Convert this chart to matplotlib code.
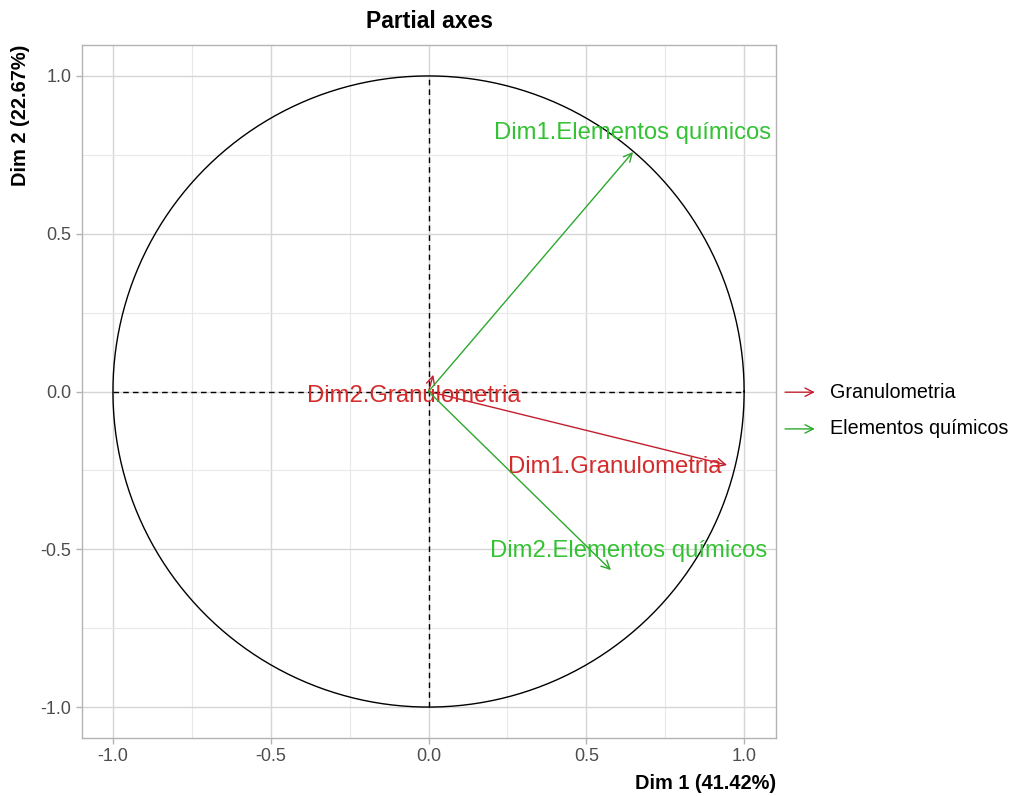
import numpy as np
import matplotlib
matplotlib.use("Agg")
import matplotlib.pyplot as plt
from matplotlib.ticker import MultipleLocator

plt.rcParams['font.family'] = ['Liberation Sans', 'DejaVu Sans']
plt.rcParams['axes.unicode_minus'] = False

# ---- data ----
names = ["Dim1.Granulometria", "Dim2.Granulometria",
         "Dim1.Elementos químicos", "Dim2.Elementos químicos"]
groups = ["Granulometria", "Granulometria", "Elementos químicos", "Elementos químicos"]
coord_x = [0.946, 0.015, 0.648, 0.578]
coord_y = [-0.233, 0.053, 0.759, -0.566]
label_x = [0.589, -0.048, 0.647, 0.634]
label_y = [-0.239, -0.014, 0.820, -0.505]
group_names = ["Granulometria", "Elementos químicos"]
group_colors = {"Granulometria": "#D42A2A", "Elementos químicos": "#33C233"}
arrow_colors = {"Granulometria": "#C21F2E", "Elementos químicos": "#2DA82D"}
xlabel = "Dim 1 (41.42%)"
ylabel = "Dim 2 (22.67%)"
title = "Partial axes"

fig = plt.figure(figsize=(10.14, 7.96), dpi=100)
ax = fig.add_axes([82/1014, 1-738/796, (776-82)/1014, (738-45)/796])

ax.set_xlim(-1.098, 1.101)
ax.set_ylim(-1.098, 1.098)

# grid
ax.xaxis.set_major_locator(MultipleLocator(0.5))
ax.yaxis.set_major_locator(MultipleLocator(0.5))
ax.xaxis.set_minor_locator(MultipleLocator(0.25))
ax.yaxis.set_minor_locator(MultipleLocator(0.25))
ax.grid(which='major', color='#D6D6D6', lw=1.0)
ax.grid(which='minor', color='#E8E8E8', lw=0.8)
ax.set_axisbelow(True)
for s in ax.spines.values():
    s.set_color('#B3B3B3')
    s.set_linewidth(1.0)
ax.tick_params(which='major', colors='#B3B3B3', labelcolor='#4D4D4D', labelsize=13, length=4, width=1)
ax.tick_params(which='minor', length=0)

# circle
t = np.linspace(0, 2*np.pi, 400)
ax.plot(np.cos(t), np.sin(t), color='black', lw=1)
ax.plot([-1, 1], [0, 0], color='black', lw=1, ls=(0, (4, 3)))
ax.plot([0, 0], [-1, 1], color='black', lw=1, ls=(0, (4, 3)))

# arrows and labels
for n, g, x, y, lx, ly in zip(names, groups, coord_x, coord_y, label_x, label_y):
    ax.annotate('', xy=(x, y), xytext=(0, 0),
                arrowprops=dict(arrowstyle='->,head_length=0.6,head_width=0.3',
                                color=arrow_colors[g], lw=1, shrinkA=0, shrinkB=0))
    ax.text(lx, ly, n, color=group_colors[g], fontsize=17.2, ha='center', va='center')

# legend
for i, g in enumerate(group_names):
    yy = 0.499 - i*0.053
    ax.annotate('', xy=(1.056, yy), xytext=(1.013, yy), xycoords='axes fraction',
                textcoords='axes fraction', annotation_clip=False,
                arrowprops=dict(arrowstyle='->,head_length=0.6,head_width=0.3',
                                color=arrow_colors[g], lw=1, shrinkA=0, shrinkB=0))
    ax.text(1.078, yy, g, transform=ax.transAxes, fontsize=14.2, color='black',
            ha='left', va='center')

ax.set_title(title, fontsize=16.5, fontweight='bold', pad=12)
ax.set_xlabel(xlabel, fontsize=14.4, fontweight='bold', loc='right', labelpad=6)
ax.set_ylabel(ylabel, fontsize=14.4, fontweight='bold', loc='top', labelpad=8)

fig.savefig('out.png', dpi=100, facecolor='white')
